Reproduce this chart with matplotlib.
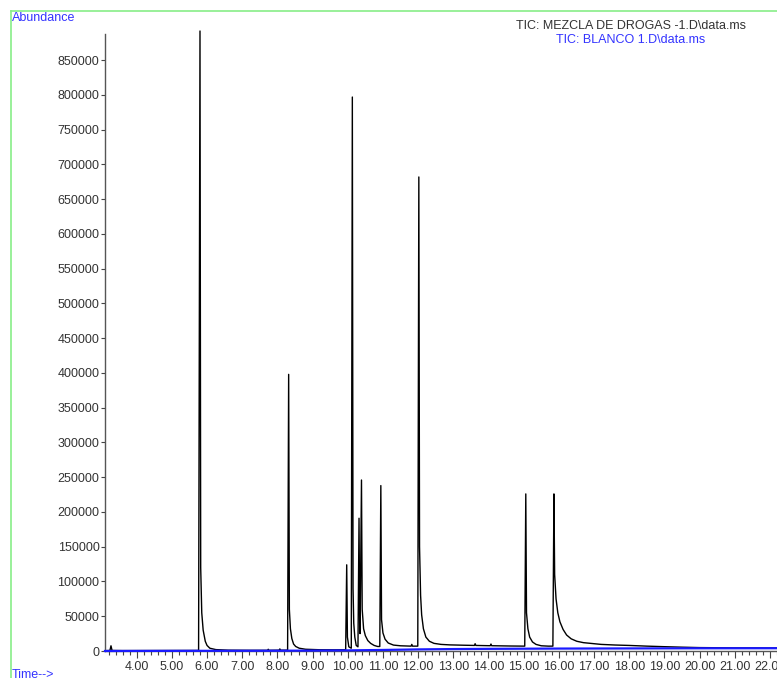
import matplotlib
matplotlib.use("Agg")
import matplotlib.pyplot as plt
from matplotlib.lines import Line2D
from matplotlib.ticker import MultipleLocator, FormatStrFormatter

# TIC trace of the drug mixture run (time in min, abundance)
mix_time = [3.10, 3.24, 3.27, 3.30, 3.60, 5.76, 5.80, 5.82, 5.85, 5.89, 5.95, 6.00, 6.08, 6.25, 6.60,
            7.20, 7.72, 7.74, 7.76, 8.05, 8.07, 8.09, 8.29, 8.32, 8.34, 8.37, 8.41, 8.46, 8.52, 8.62,
            8.80, 9.20, 9.60, 9.94, 9.97, 9.99, 10.03, 10.10, 10.13, 10.15, 10.17, 10.20, 10.24, 10.29,
            10.32, 10.34, 10.35, 10.39, 10.41, 10.45, 10.50, 10.57, 10.65, 10.75, 10.85, 10.91, 10.94,
            10.96, 11.00, 11.06, 11.15, 11.30, 11.50, 11.80, 11.82, 11.84, 11.99, 12.02, 12.04, 12.07,
            12.10, 12.15, 12.22, 12.32, 12.45, 12.65, 12.90, 13.30, 13.60, 13.62, 13.64, 14.05, 14.07,
            14.09, 14.60, 15.03, 15.06, 15.08, 15.12, 15.17, 15.25, 15.35, 15.50, 15.70, 15.83, 15.86,
            15.88, 15.92, 15.97, 16.03, 16.12, 16.22, 16.35, 16.51, 16.70, 16.90, 17.20, 17.60, 18.00,
            18.50, 19.00, 19.50, 20.00, 21.00, 22.20]
mix_abund = [500, 800, 7500, 800, 600, 800, 892000, 120000, 55000, 30000, 14000, 8000, 4000, 2000, 1200,
             1000, 1000, 2500, 1000, 1200, 3000, 1200, 1200, 398000, 60000, 32000, 18000, 10000, 6500, 4000,
             2500, 1800, 1700, 1800, 124000, 20000, 6000, 4000, 797000, 90000, 40000, 20000, 8000, 6000,
             191000, 30000, 25000, 246000, 60000, 32000, 22000, 15000, 11000, 8000, 6500, 6500, 238000,
             45000, 26000, 17000, 11500, 8500, 7500, 7000, 9500, 7000, 7000, 682000, 150000, 80000,
             52000, 32000, 20000, 14000, 11000, 9500, 8800, 8300, 8000, 10500, 8000, 7600, 10000,
             7600, 7200, 7000, 226000, 55000, 32000, 20000, 13000, 9500, 7500, 7000, 7000, 226000,
             110000, 75000, 55000, 42000, 31000, 23000, 17500, 14000, 12000, 11000, 9500, 8600, 8000,
             7000, 6200, 5500, 4900, 4500, 4300]

# TIC trace of the blank run
blank_time = [3.10, 5.00, 8.00, 9.00, 10.00, 11.00, 12.00, 13.00, 14.00, 15.00, 16.00, 18.00, 20.00, 22.20]
blank_abund = [0, 200, 400, 600, 900, 1500, 2300, 2800, 3100, 3300, 3500, 3700, 3900, 4000]

y_ticks = list(range(0, 850001, 50000))
x_major = [4.0 + i for i in range(19)]

W, H = 777, 678
fig = plt.figure(figsize=(W / 100, H / 100), dpi=100)
fig.patch.set_facecolor("white")
plt.rcParams["font.family"] = ["Liberation Sans", "DejaVu Sans"]
FS = 9

ax_left, ax_right = 105, 777
ax_bottom, ax_top = 651, 31
ax = fig.add_axes([ax_left / W, (H - ax_bottom) / H, (ax_right - ax_left) / W, (ax_bottom - ax_top) / H])
ax.set_facecolor("white")

ax.plot(mix_time, mix_abund, color="black", lw=1.0, clip_on=False, zorder=2)
ax.plot(blank_time, blank_abund, color="#1a1aff", lw=1.6, clip_on=False, zorder=3)

ax.set_xlim(3.10, 22.20)
ax.set_ylim(0, 892000)

for s in ("top", "right"):
    ax.spines[s].set_visible(False)
for s in ("left", "bottom"):
    ax.spines[s].set_color("#555555")
    ax.spines[s].set_linewidth(1.0)
ax.spines["left"].set_bounds(0, 888000)

ax.set_yticks(y_ticks)
ax.yaxis.set_major_formatter(FormatStrFormatter("%d"))
ax.set_xticks(x_major)
ax.xaxis.set_major_formatter(FormatStrFormatter("%.2f"))
ax.xaxis.set_minor_locator(MultipleLocator(0.2))
ax.tick_params(axis="y", direction="out", length=3, width=0.8, color="#444444",
               labelsize=FS, labelcolor="#333333", pad=1)
ax.tick_params(axis="x", which="major", direction="out", length=5, width=0.8, color="#444444",
               labelsize=FS, labelcolor="#333333", pad=2)
ax.tick_params(axis="x", which="minor", direction="out", length=3, width=0.8, color="#444444")

# frame lines and header texts
green = "#88ee88"
fig.add_artist(Line2D([11 / W, 1.0], [1 - 11 / H, 1 - 11 / H], color=green, lw=1.2))
fig.add_artist(Line2D([11 / W, 11 / W], [1 - 11 / H, 0.0], color=green, lw=1.2))

fig.text(12 / W, 1 - 18 / H, "Abundance", color="#3333ff", fontsize=FS, ha="left", va="center")
fig.text(12 / W, 1 - 675 / H, "Time-->", color="#3333ff", fontsize=FS, ha="left", va="center")
fig.text(631 / W, 1 - 26 / H, "TIC: MEZCLA DE DROGAS -1.D\\data.ms", color="#333333",
         fontsize=FS, ha="center", va="center")
fig.text(631 / W, 1 - 40 / H, "TIC: BLANCO 1.D\\data.ms", color="#3333ff",
         fontsize=FS, ha="center", va="center")

fig.savefig("out.png", dpi=100, facecolor="white")
